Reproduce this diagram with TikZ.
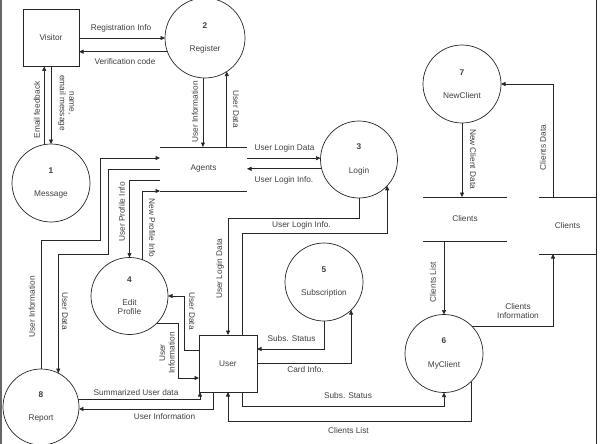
\documentclass[tikz,border=0pt]{standalone}
\usepackage{fontspec}
\setmainfont{Liberation Sans}
\usetikzlibrary{arrows.meta,calc}
\begin{document}
\begin{tikzpicture}[x=1pt,y=-1pt,
  every node/.style={font=\fontsize{8.3}{9.5}\selectfont, text=black!75},
  ln/.style={draw=black!85, line width=0.7pt},
  arr/.style={ln, -{Triangle[length=4.5pt,width=4pt]}},
  proc/.style={circle, ln, minimum size=#1, inner sep=0pt, outer sep=0pt, align=center},
  ent/.style={rectangle, ln, inner sep=0pt, outer sep=0pt},
  store/.style={rectangle, inner sep=0pt, outer sep=0pt},
  lab/.style={inner sep=1pt, align=center},
]
\useasboundingbox (0,0) rectangle (600,444);
\fill[white] (0,0) rectangle (600,444);
% frame
\draw[line width=1.2pt, draw=black!60] (1,0) -- (1,444);
\draw[ln] (596,0) -- (596,444);

% entities
\node[ent, minimum width=56, minimum height=57] (visitor) at (51,38) {Visitor};
\node[ent, minimum width=58, minimum height=57] (user) at (228,363.5) {User};

% processes
\node[proc=80] (register) at (205,38) {\textbf{2}\\[14pt]Register};
\node[proc=78] (message) at (51,183) {\textbf{1}\\[14pt]Message};
\node[proc=77] (login) at (359,159.5) {\textbf{3}\\[14pt]Login};
\node[proc=77] (editp) at (129.5,296) {\textbf{4}\\[13pt]Edit\\Profile};
\node[proc=78] (sub) at (324,282) {\textbf{5}\\[14pt]Subscription};
\node[proc=78] (myclient) at (444,353.5) {\textbf{6}\\[14pt]MyClient};
\node[proc=78] (newclient) at (462,84) {\textbf{7}\\[14pt]NewClient};
\node[proc=76] (report) at (41,407) {\textbf{8}\\[14pt]Report};

% data stores
\node[store, minimum width=87, minimum height=44] (agents) at (203.5,169) {Agents};
\node[store, minimum width=84, minimum height=44] (clientsm) at (465,219) {Clients};
\node[store, minimum width=57, minimum height=57] (clientsr) at (567.5,225.5) {Clients};
\draw[ln] (agents.north west) -- (agents.north east) (agents.south west) -- (agents.south east);
\draw[ln] (clientsm.north west) -- (clientsm.north east) (clientsm.south west) -- (clientsm.south east);
\draw[ln] (clientsr.north west) -- (clientsr.north east) (clientsr.south west) -- (clientsr.south east);

% connectors
\draw[arr] (visitor.east) -- (register.west);
\draw[arr] (register.200) -- (register.200 -| visitor.east);
\draw[arr] (message.100) -- (message.100 |- visitor.south);
\draw[arr] (visitor.south) -- (message.north);
\draw[arr] (register.267) -- (register.267 |- agents.north);
\draw[arr] (register.303 |- agents.north) -- (register.303);
\draw[arr] (login.178 -| agents.east) -- (login.178);
\draw[arr] (login.194) -- (login.194 -| agents.east);
\draw[arr] (login.south) -- ++(0,20) -| (user.north);
\draw[arr] ([xshift=14]user.north) -- ++(0,-102) -| (login.317);
\draw[arr] (report.north) -- ++(0,-129) -- ++(59,0) |- ([yshift=11]agents.west);
\draw[arr] (agents.west) -- ++(-52,0) -- ++(0,85) -| (report.63);
\draw[arr] ([yshift=-11]agents.west) -| (editp.north);
\draw[arr] (editp.70) |- (agents.south west);
\draw[arr] ([yshift=13.5]user.west) -- ++(-15,0) |- (editp.east);
\draw[arr] (editp.315) -- ++(22,0) |- ([yshift=-14.5]user.west);
\draw[arr] (report.11) -| ([xshift=-28]user.south);
\draw[arr] ([xshift=-15]user.south) |- (report.357);
\draw[arr] (sub.south) |- ([yshift=14.5]user.east);
\draw[arr] (user.east) -| (sub.314);
\draw[arr] ([xshift=14]user.south) -- ++(0,14) -| (myclient.south);
\draw[arr] (myclient.314) |- ([yshift=-29]user.south) -- (user.south);
\draw[arr] (newclient.south) -- (newclient.south |- clientsm.north);
\draw[arr] (myclient.north |- clientsm.south) -- (myclient.north);
\draw[arr] ([xshift=-14.5]clientsr.north) |- (newclient.east);
\draw[arr] (myclient.45) -| ([xshift=-14.5]clientsr.south);

% labels
\node[lab] (la) at (121,28) {Registration Info};
\node[lab] (lb) at (125,62) {Verification code};
\node[lab, rotate=90] (lc) at (37,110) {Email feedback};
\node[lab, rotate=-90] (ld) at (66,103) {name,\\email message};
\node[lab, rotate=90] (le) at (195,112) {User Information};
\node[lab, rotate=-90] (lf) at (236,109) {User Data};
\node[lab] (lg) at (284.5,148) {User Login Data};
\node[lab] (lh) at (284,180) {User Login Info.};
\node[lab] (li) at (301.5,225) {User Login Info.};
\node[lab, rotate=90] (lj) at (220,269) {User Login Data};
\node[lab, rotate=90] (lk) at (122,212) {User Profile Info};
\node[lab, rotate=-90] (ll) at (152,228) {New Profile Info};
\node[lab, rotate=90] (lm) at (32,307) {User Information};
\node[lab, rotate=-90] (ln) at (65,311) {User Data};
\node[lab, rotate=-90] (lo) at (192,311) {User Data};
\node[lab, rotate=90] (lp) at (167,353) {User\\Information};
\node[lab] (lq) at (136,393) {Summarized User data};
\node[lab] (lr) at (164.5,417) {User Information};
\node[lab] (ls) at (291.5,339) {Subs. Status};
\node[lab] (lt) at (305.5,370) {Card Info.};
\node[lab] (lu) at (348,396) {Subs. Status};
\node[lab] (lv) at (348.5,431) {Clients List};
\node[lab, rotate=90] (lw) at (433,282.5) {Clients List};
\node[lab, rotate=-90] (lx) at (473,159) {New Client Data};
\node[lab, rotate=90] (ly) at (543,147.5) {Clients Data};
\node[lab] (lz) at (518,311) {Clients\\Information};
\end{tikzpicture}
\end{document}
